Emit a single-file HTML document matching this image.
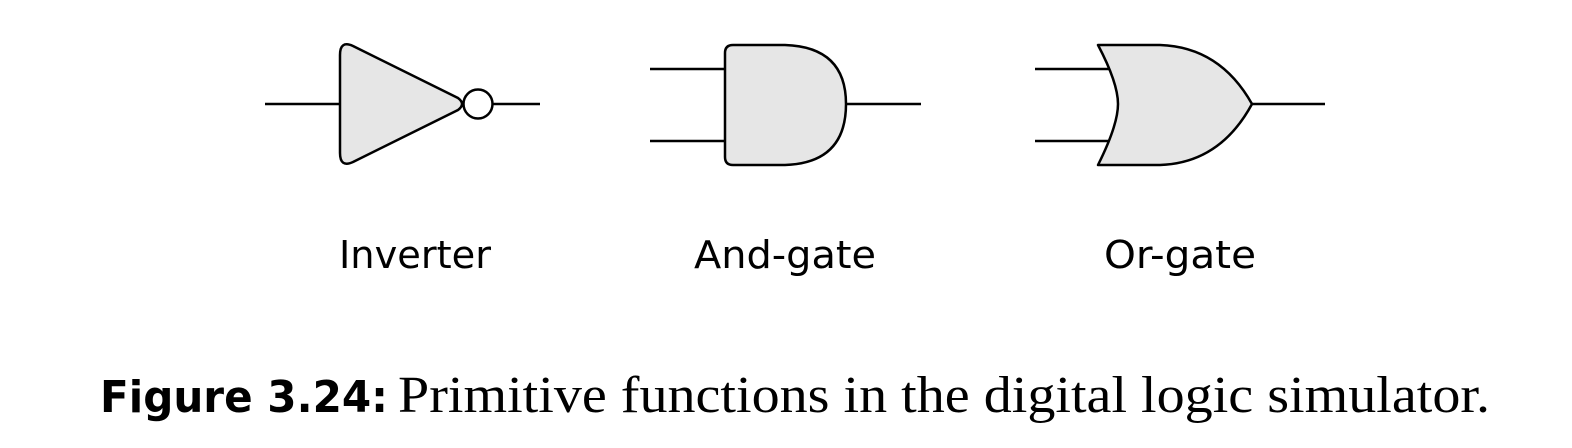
<!DOCTYPE html>
<html><head><style>
html,body{margin:0;padding:0;background:#fff;}
body{width:1572px;height:448px;position:relative;overflow:hidden;}
svg{position:absolute;left:0;top:0;}
</style></head><body>
<svg width="1572" height="448" viewBox="0 0 1572 448">
<g stroke="#000" stroke-width="2.5" fill="#e6e6e6" stroke-linejoin="round">
<line x1="265" y1="104" x2="340" y2="104"/>
<line x1="493" y1="104" x2="540" y2="104"/>
<path d="M340 55 Q340 40 353 46 L458 98 Q466 104 458 110 L353 162 Q340 168 340 153 Z"/>
<circle cx="478" cy="104" r="14.5" fill="#fff"/>
<line x1="650" y1="69" x2="725" y2="69"/>
<line x1="650" y1="141" x2="725" y2="141"/>
<line x1="846" y1="104" x2="921" y2="104"/>
<path d="M733 45 L785 45 Q846 47 846 104 Q846 163 785 165 L733 165 Q725 165 725 157 L725 53 Q725 45 733 45 Z"/>
<line x1="1035" y1="69" x2="1113" y2="69"/>
<line x1="1035" y1="141" x2="1113" y2="141"/>
<line x1="1252" y1="104" x2="1325" y2="104"/>
<path d="M1098 45 L1160 45 Q1220 47 1252 104 Q1220 163 1160 165 L1098 165 Q1118 125 1118 104 Q1118 83 1098 45 Z"/>
</g>
<g font-family="'DejaVu Sans','Liberation Sans',sans-serif" font-size="38" text-anchor="middle" fill="#000">
<text x="415" y="268" textLength="152" lengthAdjust="spacingAndGlyphs">Inverter</text>
<text x="785" y="268" textLength="182" lengthAdjust="spacingAndGlyphs">And-gate</text>
<text x="1180" y="268" textLength="152" lengthAdjust="spacingAndGlyphs">Or-gate</text>
</g>
<text x="100" y="412" font-family="'DejaVu Sans','Liberation Sans',sans-serif" font-weight="bold" font-size="44" textLength="288" lengthAdjust="spacingAndGlyphs" fill="#000">Figure 3.24:</text>
<text x="398" y="412" font-family="'Liberation Serif',serif" font-size="52" textLength="1092" lengthAdjust="spacingAndGlyphs" fill="#000">Primitive functions in the digital logic simulator.</text>
</svg>
</body></html>
